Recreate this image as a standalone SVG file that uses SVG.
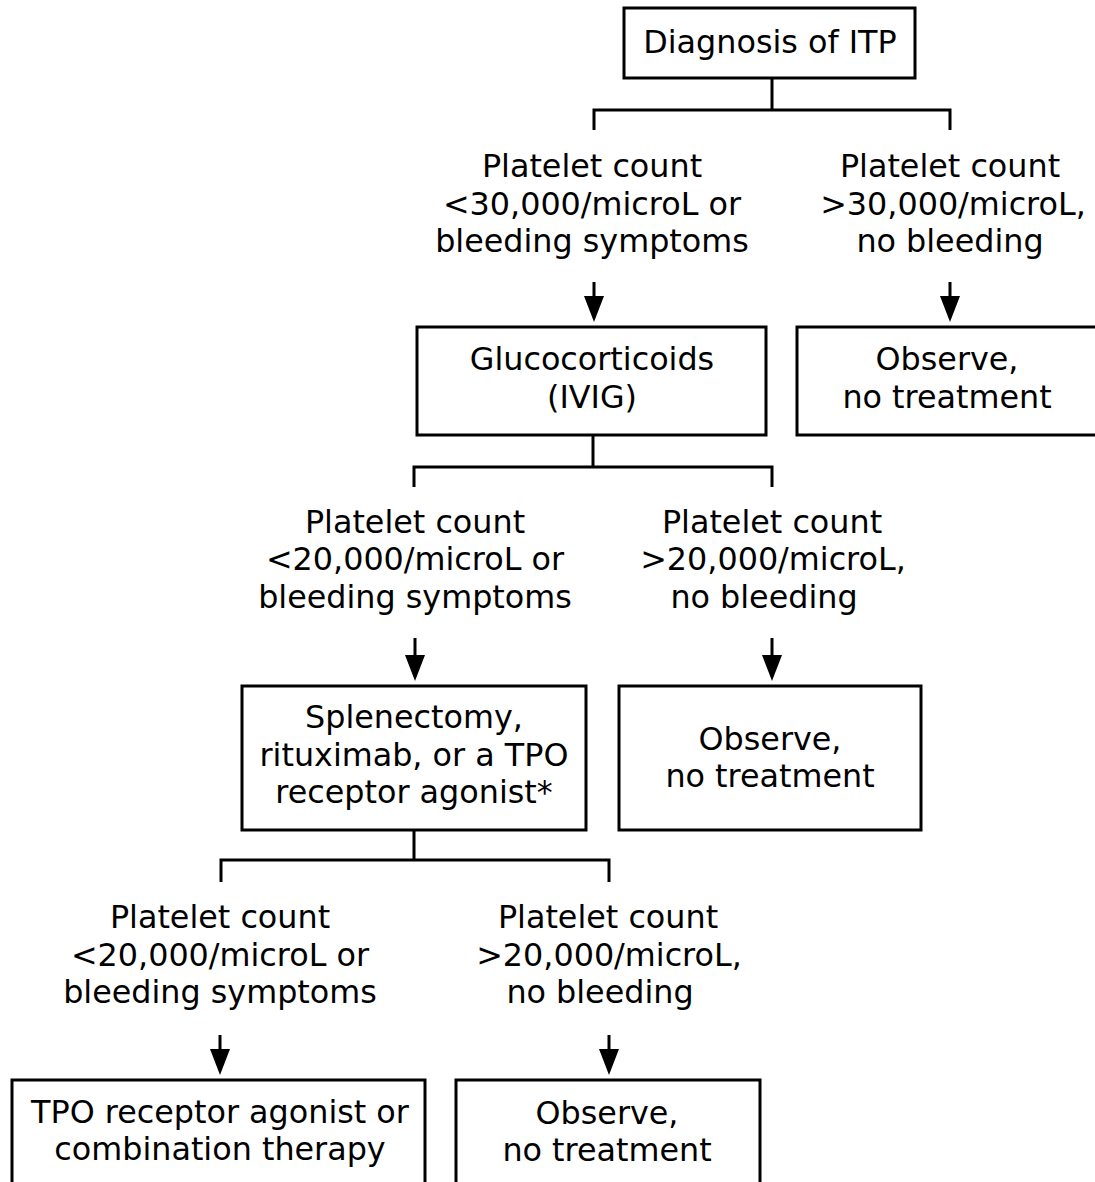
<svg xmlns="http://www.w3.org/2000/svg" xmlns:xlink="http://www.w3.org/1999/xlink" width="1095" height="1182" viewBox="0 0 1095 1182">
<style>
  .box { fill: #ffffff; stroke: #000000; stroke-width: 3; }
  .ln { fill: none; stroke: #000000; stroke-width: 3; }
  text { font-family: "DejaVu Sans", Verdana, sans-serif; font-size: 31.8px; fill: #000000; text-anchor: middle; }
</style>
<defs>
  <path id="head" d="M-10,-26 L10,-26 L0,0 Z" fill="#000000"/>
</defs>
<rect width="1095" height="1182" fill="#ffffff"/>

<g id="connectors">
  <path class="ln" d="M772,78 V110 M594,110 H950 M594,108.5 V130 M950,108.5 V130"/>
  <path class="ln" d="M594,282 V300 M950,282 V300"/>
  <use xlink:href="#head" x="594" y="322"/>
  <use xlink:href="#head" x="950" y="322"/>
  <path class="ln" d="M593,435 V467 M414,467 H772 M414,465.5 V487 M772,465.5 V487"/>
  <path class="ln" d="M415,638 V660 M772,638 V660"/>
  <use xlink:href="#head" x="415" y="681"/>
  <use xlink:href="#head" x="772" y="681"/>
  <path class="ln" d="M414,830 V860 M221,860 H609 M221,858.5 V882 M609,858.5 V882"/>
  <path class="ln" d="M220,1035 V1055 M609,1035 V1055"/>
  <use xlink:href="#head" x="220" y="1075"/>
  <use xlink:href="#head" x="609" y="1075"/>
</g>

<g id="diagnosis">
  <rect class="box" x="624" y="8" width="291" height="70"/>
  <text x="770" y="53">Diagnosis of ITP</text>
</g>

<g id="cond1-low">
  <text x="592" y="177">Platelet count</text>
  <text x="592" y="215">&lt;30,000/microL or</text>
  <text x="592" y="252">bleeding symptoms</text>
</g>

<g id="cond1-high">
  <text x="950" y="177">Platelet count</text>
  <text x="953" y="215">&gt;30,000/microL,</text>
  <text x="950" y="252">no bleeding</text>
</g>

<g id="glucocorticoids">
  <rect class="box" x="417" y="327" width="349" height="108"/>
  <text x="592" y="370">Glucocorticoids</text>
  <text x="592" y="408">(IVIG)</text>
</g>

<g id="observe1">
  <rect class="box" x="797" y="327" width="310" height="108"/>
  <text x="947" y="370">Observe,</text>
  <text x="947" y="408">no treatment</text>
</g>

<g id="cond2-low">
  <text x="415" y="533">Platelet count</text>
  <text x="415" y="570">&lt;20,000/microL or</text>
  <text x="415" y="608">bleeding symptoms</text>
</g>

<g id="cond2-high">
  <text x="772" y="533">Platelet count</text>
  <text x="773" y="570">&gt;20,000/microL,</text>
  <text x="764" y="608">no bleeding</text>
</g>

<g id="splenectomy">
  <rect class="box" x="242" y="686" width="344" height="144"/>
  <text x="414" y="728">Splenectomy,</text>
  <text x="414" y="766">rituximab, or a TPO</text>
  <text x="414" y="803">receptor agonist*</text>
</g>

<g id="observe2">
  <rect class="box" x="619" y="686" width="302" height="144"/>
  <text x="770" y="750">Observe,</text>
  <text x="770" y="787">no treatment</text>
</g>

<g id="cond3-low">
  <text x="220" y="928">Platelet count</text>
  <text x="220" y="966">&lt;20,000/microL or</text>
  <text x="220" y="1003">bleeding symptoms</text>
</g>

<g id="cond3-high">
  <text x="608" y="928">Platelet count</text>
  <text x="609" y="966">&gt;20,000/microL,</text>
  <text x="600" y="1003">no bleeding</text>
</g>

<g id="tpo">
  <rect class="box" x="12" y="1080" width="413" height="120"/>
  <text x="220" y="1123">TPO receptor agonist or</text>
  <text x="220" y="1160">combination therapy</text>
</g>

<g id="observe3">
  <rect class="box" x="456" y="1080" width="304" height="120"/>
  <text x="607" y="1124">Observe,</text>
  <text x="607" y="1161">no treatment</text>
</g>
</svg>
